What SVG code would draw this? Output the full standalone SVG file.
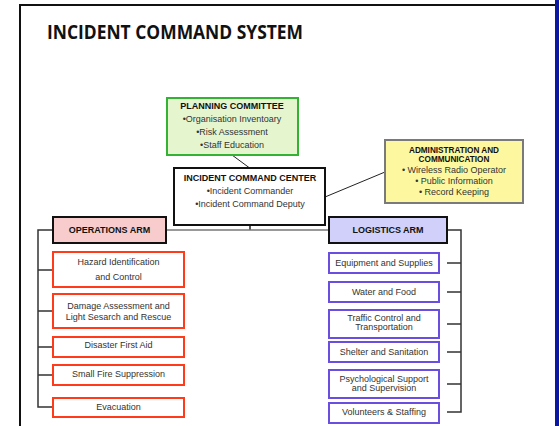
<svg xmlns="http://www.w3.org/2000/svg" width="559" height="426" viewBox="0 0 559 426">
  <style>
    text { font-family: "Liberation Sans", Arial, sans-serif; font-size: 9px; fill: #333; text-anchor: middle; }
    .h { font-weight: bold; fill: #111; }
    .title { font-family: "Open Sans", "Liberation Sans", sans-serif; font-size: 19px; font-weight: bold; fill: #111; text-anchor: start; }
    .op { fill: #fff; stroke: #ff3b1a; stroke-width: 2; }
    .lg { fill: #fff; stroke: #6a4ee0; stroke-width: 2; }
    .tree { fill: none; stroke: #333; stroke-width: 1.5; }
  </style>

  <!-- page frame -->
  <rect x="0" y="0" width="559" height="426" fill="#fff"/>
  <path d="M20 426 V5 H555" fill="none" stroke="#111" stroke-width="2"/>
  <rect x="555" y="0" width="4" height="426" fill="#0b18a2"/>

  <text class="title" x="47" y="39" textLength="256" lengthAdjust="spacingAndGlyphs">INCIDENT COMMAND SYSTEM</text>

  <!-- connectors -->
  <g id="connectors">
    <line x1="232" y1="155" x2="251" y2="169" stroke="#222" stroke-width="1"/>
    <line x1="325" y1="197" x2="385" y2="172" stroke="#222" stroke-width="1"/>
    <line x1="250" y1="225" x2="250" y2="230" stroke="#222" stroke-width="1.5"/>
    <line x1="166" y1="230" x2="329" y2="230" stroke="#777" stroke-width="1.5"/>
    <path class="tree" d="M53 230 H38 V407 H53 M38 270 H53 M38 311 H53 M38 347 H53 M38 375 H53"/>
    <path class="tree" d="M447 230 H461 V412 H447 M461 263 H447 M461 292 H447 M461 324 H447 M461 352 H447 M461 384 H447"/>
  </g>

  <g id="planning">
    <rect x="167" y="98" width="131" height="57" fill="#e5f6cf" stroke="#33b233" stroke-width="2"/>
    <text class="h" x="232" y="109">PLANNING COMMITTEE</text>
    <text x="232" y="122">•Organisation Inventoary</text>
    <text x="232" y="135">•Risk Assessment</text>
    <text x="232" y="148">•Staff Education</text>
  </g>

  <g id="command-center">
    <rect x="174" y="168" width="151" height="57" fill="#fff" stroke="#111" stroke-width="2"/>
    <text class="h" x="250" y="181">INCIDENT COMMAND CENTER</text>
    <text x="250" y="194">•Incident Commander</text>
    <text x="250" y="207">•Incident Command Deputy</text>
  </g>

  <g id="administration">
    <rect x="385" y="140" width="138" height="63" fill="#fdf8a0" stroke="#7a7a7a" stroke-width="2"/>
    <text class="h" x="454" y="153" style="font-size:8.2px">ADMINISTRATION AND</text>
    <text class="h" x="454" y="161.5" style="font-size:8.2px">COMMUNICATION</text>
    <text x="454" y="173">• Wireless Radio Operator</text>
    <text x="454" y="184">• Public Information</text>
    <text x="454" y="195">• Record Keeping</text>
  </g>

  <g id="operations-arm">
    <rect x="53" y="217" width="113" height="26" fill="#f8cccc" stroke="#111" stroke-width="2"/>
    <text class="h" x="109.5" y="233">OPERATIONS ARM</text>
  </g>
  <g id="op-hazard">
    <rect class="op" x="53" y="252" width="131" height="35"/>
    <text x="118.5" y="265">Hazard Identification</text>
    <text x="118.5" y="280">and Control</text>
  </g>
  <g id="op-damage">
    <rect class="op" x="53" y="294" width="131" height="34"/>
    <text x="118.5" y="309">Damage Assessment and</text>
    <text x="118.5" y="320">Light Sesarch and Rescue</text>
  </g>
  <g id="op-first-aid">
    <rect class="op" x="53" y="337" width="131" height="20"/>
    <text x="118.5" y="348">Disaster First Aid</text>
  </g>
  <g id="op-fire">
    <rect class="op" x="53" y="365" width="131" height="20"/>
    <text x="118.5" y="377">Small Fire Suppression</text>
  </g>
  <g id="op-evacuation">
    <rect class="op" x="53" y="398" width="131" height="19"/>
    <text x="118.5" y="410">Evacuation</text>
  </g>

  <g id="logistics-arm">
    <rect x="329" y="217" width="118" height="26" fill="#d0d0fa" stroke="#111" stroke-width="2"/>
    <text class="h" x="388" y="233">LOGISTICS ARM</text>
  </g>
  <g id="lg-equipment">
    <rect class="lg" x="329" y="253" width="110" height="20"/>
    <text x="384" y="266">Equipment and Supplies</text>
  </g>
  <g id="lg-water">
    <rect class="lg" x="329" y="282" width="110" height="20"/>
    <text x="384" y="295">Water and Food</text>
  </g>
  <g id="lg-traffic">
    <rect class="lg" x="329" y="310" width="110" height="28"/>
    <text x="384" y="321">Traffic Control and</text>
    <text x="384" y="330">Transportation</text>
  </g>
  <g id="lg-shelter">
    <rect class="lg" x="329" y="342" width="110" height="20"/>
    <text x="384" y="355">Shelter and Sanitation</text>
  </g>
  <g id="lg-psych">
    <rect class="lg" x="329" y="370" width="110" height="28"/>
    <text x="384" y="382">Psychological Support</text>
    <text x="384" y="391">and Supervision</text>
  </g>
  <g id="lg-volunteers">
    <rect class="lg" x="329" y="403" width="110" height="20"/>
    <text x="384" y="415">Volunteers &amp; Staffing</text>
  </g>
</svg>
